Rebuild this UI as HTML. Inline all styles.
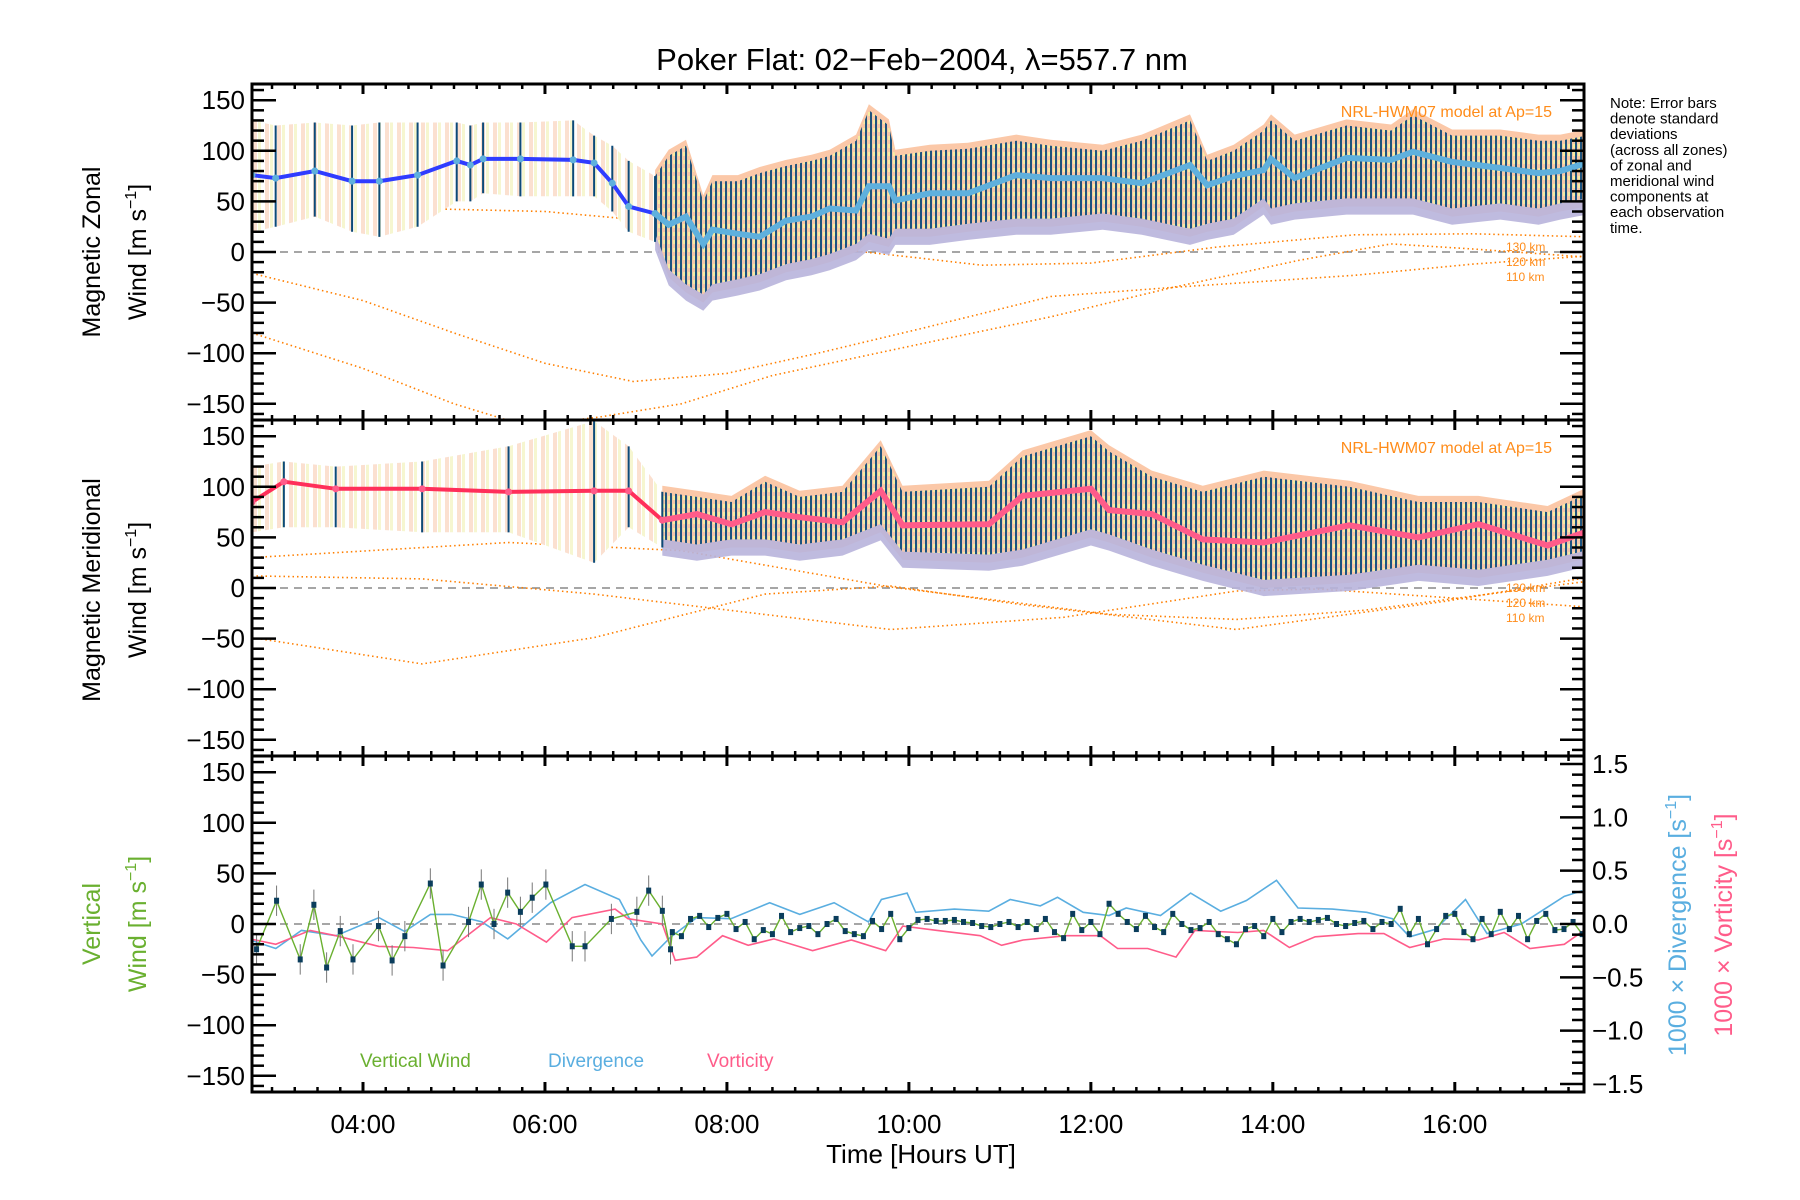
<!DOCTYPE html>
<html><head><meta charset="utf-8">
<style>
html,body{margin:0;padding:0;background:#fff;}
svg{display:block;font-family:"Liberation Sans",sans-serif;}
</style></head>
<body>
<svg id="chart" width="1800" height="1200" viewBox="0 0 1800 1200" xmlns="http://www.w3.org/2000/svg">
<defs>
<pattern id="densePat" patternUnits="userSpaceOnUse" width="5" height="8">
<rect width="5" height="8" fill="#f6c8a8"/>
<rect x="3" width="2" height="4" fill="#f4f0a0"/>
<rect x="0" width="2" height="8" fill="#0d4a78"/>
</pattern>
<pattern id="sparsePat" patternUnits="userSpaceOnUse" width="12" height="8">
<rect width="12" height="8" fill="#fff"/>
<rect x="1" width="4" height="8" fill="#fbe0d0"/>
<rect x="6" width="3" height="8" fill="#f6f6d0"/>
</pattern>
</defs>
<g id="layer"></g>
</svg>
<script>
// ---------- DATA ----------
// Panel 1: magnetic zonal wind
const zonT  = [2.78,3.04,3.47,3.88,4.18,4.6,5.03,5.18,5.32,5.73,6.31,6.54,6.74,6.92,7.21,7.36,7.55,7.74,7.84,8.12,8.36,8.65,8.93,9.13,9.42,9.56,9.78,9.85,10.23,10.65,11.18,11.56,12.13,12.56,13.09,13.28,13.57,13.9,13.98,14.24,14.81,15.3,15.54,15.97,16.5,16.92,17.16,17.45];
const zonMean=[76,73,80,70,70,76,90,86,92,92,91,88,68,45,38,27,35,8,22,18,15,31,35,43,41,65,65,51,58,58,76,73,73,68,86,66,75,81,92,73,93,91,99,89,83,78,80,88];
const zonHi = [130,125,128,125,128,128,128,125,128,128,130,115,105,90,75,95,105,50,70,70,78,85,90,95,110,140,125,95,100,102,110,105,100,110,130,90,100,120,130,110,125,120,135,115,115,110,110,115];
const zonLo = [20,25,35,20,15,25,50,50,58,55,55,55,40,20,10,-25,-40,-50,-40,-35,-30,-20,-15,-10,0,10,5,15,15,20,25,25,30,25,15,20,25,45,35,40,45,45,45,35,40,35,40,45];
const zModAT=[2.78,4.0,5.0,6.0,6.97,8.0,9.0,10.12,11.56,12.9,14.9,16.2,17.45];
const zModA =[-21,-48,-80,-110,-128,-120,-100,-76,-44,-35,-23,-12,-4];
const zModBT=[2.78,4.0,5.0,5.8,6.6,7.5,8.5,10.12,11.56,12.9,14.3,15.3,16.2,17.45];
const zModB =[-80,-115,-150,-172,-163,-150,-122,-91,-64,-35,-8,8,3,-5];
const zModCT=[2.78,4.6,6.0,7.0,8.0,10.12,10.8,12.0,13.4,14.9,16.2,17.45];
const zModC =[47,43,40,32,15,-6,-13,-11,5,17,18,15];
// Panel 2: magnetic meridional wind
const merT  =[2.78,3.13,3.7,4.65,5.6,6.54,6.92,7.29,7.67,8.05,8.42,8.8,9.27,9.69,9.93,10.88,11.25,12.0,12.2,12.67,13.23,13.9,14.84,15.6,16.26,17.02,17.49];
const merMean=[85,105,98,98,95,96,96,67,73,63,75,70,65,96,62,63,91,98,77,73,48,45,62,50,63,42,57];
const merHi =[120,125,120,125,140,165,140,95,90,85,105,90,95,140,95,100,130,150,135,110,95,110,100,85,85,75,95];
const merLo =[55,60,60,55,55,25,60,40,35,40,40,35,40,55,28,25,30,50,45,30,15,0,5,15,10,20,30];
const mModDT=[2.78,5.6,7.5,9.8,12.2,13.6,15.0,17.49];
const mModD =[30,45,37,1,-26,-31,-22,7];
const mModET=[2.78,4.65,6.54,9.8,11.7,13.6,14.5,17.49];
const mModE =[12,9,-6,-41,-29,-3,-1,-19];
const mModFT=[2.78,4.65,6.54,8.42,9.8,11.2,13.6,15.9,17.49];
const mModF =[-49,-75,-49,-6,2,-16,-41,-13,11];
// Panel 3: vertical wind
const vwT =[2.83,3.05,3.31,3.46,3.6,3.75,3.89,4.17,4.32,4.46,4.74,4.88,5.16,5.3,5.44,5.59,5.73,5.86,6.01,6.3,6.44,6.73,7.01,7.14,7.29,7.38];
const vwV =[-25,23,-35,19,-43,-7,-35,-2,-36,-12,40,-41,2,39,0,31,12,26,39,-22,-22,5,12,33,13,-25];
const vwDenseStart=7.4;
const vwDenseV=[-8,-12,5,8,-3,6,10,-5,2,-15,
-6,-10,8,-8,-4,-2,-10,0,5,-7,
-10,-12,3,-5,10,-15,-4,4,5,3,
3,4,2,1,-2,-3,0,2,-3,2,
-5,5,-8,-14,10,-6,2,-10,20,10,
2,-5,8,-3,-8,10,0,-6,-4,2,
-10,-15,-20,-5,-2,-12,5,-8,2,5,
2,4,6,0,-2,1,3,-5,2,0,
15,-10,5,-20,-5,8,10,-8,-15,5,
-10,12,-5,8,-15,3,10,-6,-5,2,
-10];
const divX=[0,30,60,100,150,180,210,235,270,300,350,390,430,455,468,490,520,560,605,640,680,720,735,765,775,820,860,885,920,940,970,1000,1020,1060,1095,1130,1160,1195,1220,1260,1300,1330,1350,1380,1415,1440,1480,1530,1550,1560];
const divV=[-0.15,-0.23,-0.06,-0.11,0.06,-0.07,0.09,0.09,0.02,-0.14,0.2,0.37,0.23,-0.15,-0.3,-0.12,0.06,0.05,0.2,0.09,0.2,0.02,0.23,0.29,0.11,0.14,0.12,0.23,0.17,0.25,0.11,0.08,0.15,0.08,0.29,0.12,0.22,0.41,0.15,0.14,0.11,0.05,-0.12,-0.05,0.23,-0.09,0,0.26,0.31,0.22];
const vorX=[0,30,70,100,150,190,230,280,310,345,375,425,440,480,495,520,550,580,610,655,700,740,760,800,850,875,900,950,990,1010,1045,1078,1100,1150,1180,1210,1240,1290,1320,1350,1390,1430,1460,1490,1530,1560];
const vorV=[-0.14,-0.19,-0.06,-0.11,-0.21,-0.22,-0.25,0.06,0,-0.17,0.06,0.14,0.05,0,-0.34,-0.31,-0.11,-0.2,-0.14,-0.25,-0.15,-0.25,-0.02,-0.06,-0.11,-0.2,-0.15,-0.11,-0.11,-0.23,-0.23,-0.31,-0.06,-0.08,-0.06,-0.22,-0.12,-0.09,-0.09,-0.22,-0.14,-0.15,-0.08,-0.23,-0.19,-0.02];
const yTicks=[150,100,50,0,-50,-100,-150];
const rTicks=[1.5,1.0,0.5,0.0,-0.5,-1.0,-1.5];
const xTickHours=[4,6,8,10,12,14,16];

// ---------- LAYOUT ----------
const NS="http://www.w3.org/2000/svg";
const L=252,R=1584,T0=2.78,T1=17.42;
const tops=[84,420,756],PH=336;
const layer=document.getElementById('layer');
function xs(t){return L+(t-T0)/(T1-T0)*(R-L);}
function ys(v,p){return tops[p]+PH/2-v*(PH/2)/166;}
function yr(v){return tops[2]+PH/2-v*(PH/2)/1.575;}
function pxT(px){return T0+(250+px*0.859-L)/((R-L)/(T1-T0));}
function mk(tag,attrs,parent){const e=document.createElementNS(NS,tag);for(const k in attrs)e.setAttribute(k,attrs[k]);(parent||layer).appendChild(e);return e;}
function txt(s,x,y,attrs,parent){const e=mk('text',Object.assign({x:x,y:y},attrs),parent);e.textContent=s;return e;}
function pts(ts,vs,f){return ts.map((t,i)=>xs(t).toFixed(1)+','+f(vs[i]).toFixed(1)).join(' ');}

const defs=document.querySelector('defs');
for(let p=0;p<3;p++){const c=mk('clipPath',{id:'clip'+p},defs);mk('rect',{x:L,y:tops[p],width:R-L,height:PH},c);}

function drawWindPanel(p,T,M,H,Lo,lineEarly,lineLate,modSets,name){
  const g=mk('g',{'clip-path':'url(#clip'+p+')'});
  
  
  const z=mk('line',{x1:L,x2:R,y1:ys(0,p),y2:ys(0,p),stroke:'#888','stroke-width':1.5,'stroke-dasharray':'8,6'},g);
  
  
  modSets.forEach((m)=>{
    const pl=mk('polyline',{points:pts(m[0],m[1],v=>ys(v,p)),fill:'none',stroke:'#ff7f00','stroke-width':1.6,'stroke-dasharray':'1.5,3'},g);
    
    
  });
  const split=T.findIndex(t=>t>=7.2);
  const early=[...Array(split+1).keys()], late=[...Array(T.length-split).keys()].map(i=>i+split);
  const bandPts=(idx,hiOff,loOff)=>{
    const up=idx.map(i=>xs(T[i]).toFixed(1)+','+ys(H[i]+hiOff,p).toFixed(1));
    const dn=idx.slice().reverse().map(i=>xs(T[i]).toFixed(1)+','+ys(Lo[i]+loOff,p).toFixed(1));
    return up.concat(dn).join(' ');
  };
  const halo=mk('polygon',{points:bandPts(late,6,0),fill:'#fbc8a8'},g);
  
  
  const lav=late.map(i=>xs(T[i]).toFixed(1)+','+ys(Lo[i]+25,p).toFixed(1)).concat(late.slice().reverse().map(i=>xs(T[i]).toFixed(1)+','+ys(Lo[i]-8,p).toFixed(1)));
  const lv=mk('polygon',{points:lav.join(' '),fill:'#b8b4dc',opacity:0.9},g);
  
  
  const b1=mk('polygon',{points:bandPts(early,0,0),fill:'url(#sparsePat)'},g);
  
  
  const b2=mk('polygon',{points:bandPts(late,0,8),fill:'url(#densePat)',opacity:0.92},g);
  
  
  early.forEach(i=>{
    const b=mk('line',{x1:xs(T[i]),x2:xs(T[i]),y1:ys(H[i],p),y2:ys(Lo[i],p),stroke:'#0d4a78','stroke-width':2},g);
    
    
  });
  const e1=mk('polyline',{points:pts(early.map(i=>T[i]),early.map(i=>M[i]),v=>ys(v,p)),fill:'none',stroke:lineEarly,'stroke-width':4},g);
  
  
  const e2=mk('polyline',{points:pts(late.map(i=>T[i]),late.map(i=>M[i]),v=>ys(v,p)),fill:'none',stroke:lineLate,'stroke-width':6},g);
  
  
  early.forEach(i=>{
    const c=mk('circle',{cx:xs(T[i]),cy:ys(M[i],p),r:3.5,fill:lineLate},g);
    
    
  });
  const a=txt('NRL-HWM07 model at Ap=15',1552,tops[p]+33,{'font-size':16,fill:'#ff8c1a','text-anchor':'end'});
  
  
}
drawWindPanel(0,zonT,zonMean,zonHi,zonLo,'#2f3cff','#5fb0dd',[[zModAT,zModA,'110km'],[zModBT,zModB,'120km'],[zModCT,zModC,'130km']],'zonal');
drawWindPanel(1,merT,merMean,merHi,merLo,'#ff2f5a','#ff5c8a',[[mModFT,mModF,'110km'],[mModET,mModE,'120km'],[mModDT,mModD,'130km']],'meridional');
[['130 km',0],['120 km',1],['110 km',2]].forEach(([s,k])=>{
  for(let p=0;p<2;p++){
    const e=txt(s,1506,tops[p]+167+(p===1?5:0)+k*15,{'font-size':12,fill:'#ff8c1a'});
    
    
  }
});

// Panel 3
(function(){
  const g=mk('g',{'clip-path':'url(#clip2)'});
  
  
  const z=mk('line',{x1:L,x2:R,y1:ys(0,2),y2:ys(0,2),stroke:'#888','stroke-width':1.5,'stroke-dasharray':'8,6'},g);
  
  
  const dv=mk('polyline',{points:divX.map((px,i)=>xs(pxT(px)).toFixed(1)+','+yr(divV[i]).toFixed(1)).join(' '),fill:'none',stroke:'#5aaee0','stroke-width':1.6},g);
  
  
  const vo=mk('polyline',{points:vorX.map((px,i)=>xs(pxT(px)).toFixed(1)+','+yr(vorV[i]).toFixed(1)).join(' '),fill:'none',stroke:'#ff5c8a','stroke-width':1.6},g);
  
  
  const dT=vwDenseV.map((v,i)=>vwDenseStart+i*0.1);
  const allT=vwT.concat(dT), allV=vwV.concat(vwDenseV);
  const gl=mk('polyline',{points:pts(allT,allV,v=>ys(v,2)),fill:'none',stroke:'#6ab030','stroke-width':1.4},g);
  
  
  vwT.forEach((t,i)=>{
    const b=mk('line',{x1:xs(t),x2:xs(t),y1:ys(vwV[i]+15,2),y2:ys(vwV[i]-15,2),stroke:'#777','stroke-width':1},g);
    
    
  });
  allT.forEach((t,i)=>{
    const r=mk('rect',{x:xs(t)-2.5,y:ys(allV[i],2)-3,width:5,height:6,fill:'#0a3d5c'},g);
    
    
  });
})();

// ---------- AXES ----------
for(let p=0;p<3;p++){
  const fr=mk('rect',{x:L,y:tops[p],width:R-L,height:PH,fill:'none',stroke:'#000','stroke-width':3});
  
  
  for(let v=-160;v<=160;v+=10){
    const maj=v%50===0, y=ys(v,p);
    mk('line',{x1:L,x2:L+(maj?24:12),y1:y,y2:y,stroke:'#000','stroke-width':2.5});
    if(p<2) mk('line',{x1:R,x2:R-(maj?24:12),y1:y,y2:y,stroke:'#000','stroke-width':2.5});
  }
  yTicks.forEach(v=>{
    const t=txt((v<0?'\u2212':'')+Math.abs(v),245,ys(v,p)+9,{'font-size':26,'text-anchor':'end',fill:'#000'});
    
    
  });
  for(let t=3;t<=17.42;t+=0.25){
    const maj=Math.abs(t-Math.round(t))<0.01&&Math.round(t)%2===0, x=xs(t);
    const len=maj?10:5;
    mk('line',{x1:x,x2:x,y1:tops[p]+PH,y2:tops[p]+PH-len,stroke:'#000','stroke-width':maj?3:2.5});
    mk('line',{x1:x,x2:x,y1:tops[p],y2:tops[p]+len,stroke:'#000','stroke-width':maj?3:2.5});
  }
}
for(let k=-15;k<=15;k++){
  const v=k/10, maj=k%5===0, y=yr(v);
  mk('line',{x1:R,x2:R-(maj?24:12),y1:y,y2:y,stroke:'#000','stroke-width':2.5});
}
rTicks.forEach(v=>{
  const t=txt((v<0?'\u2212':'')+Math.abs(v).toFixed(1),1592,yr(v)+9,{'font-size':26,fill:'#000'});
  
  
});
xTickHours.forEach(h=>{
  const t=txt((h<10?'0':'')+h+':00',xs(h),1133,{'font-size':26,'text-anchor':'middle',fill:'#000'});
  
  
});

// ---------- LABELS ----------
function rotLabel(lines,x,cy,name){
  const g=mk('text',{transform:'translate('+x+','+cy+') rotate(-90)','text-anchor':'middle','font-size':25});
  
  
  g.innerHTML=lines;
}
rotLabel('<tspan x="0" y="0" fill="#000">Magnetic Zonal</tspan><tspan x="0" y="46" fill="#000">Wind [m s<tspan font-size="16" dy="-10">\u22121</tspan><tspan dy="10">]</tspan></tspan>',100,252,'zonal-y-axis-title');
rotLabel('<tspan x="0" y="0" fill="#000">Magnetic Meridional</tspan><tspan x="0" y="46" fill="#000">Wind [m s<tspan font-size="16" dy="-10">\u22121</tspan><tspan dy="10">]</tspan></tspan>',100,590,'meridional-y-axis-title');
rotLabel('<tspan x="0" y="0" fill="#6ab030">Vertical</tspan><tspan x="0" y="46" fill="#6ab030">Wind [m s<tspan font-size="16" dy="-10">\u22121</tspan><tspan dy="10">]</tspan></tspan>',100,924,'vertical-y-axis-title');
rotLabel('<tspan x="0" y="0" fill="#5aaee0">1000 \u00d7 Divergence [s<tspan font-size="16" dy="-10">\u22121</tspan><tspan dy="10">]</tspan></tspan>',1686,925,'divergence-axis-title');
rotLabel('<tspan x="0" y="0" fill="#ff5c8a">1000 \u00d7 Vorticity [s<tspan font-size="16" dy="-10">\u22121</tspan><tspan dy="10">]</tspan></tspan>',1732,925,'vorticity-axis-title');

const title=txt('Poker Flat: 02\u2212Feb\u22122004, \u03bb=557.7 nm',922,70,{'font-size':31,'text-anchor':'middle',fill:'#000'});


const xt=txt('Time [Hours UT]',921,1163,{'font-size':26,'text-anchor':'middle',fill:'#000'});



const note=['Note: Error bars','denote standard','deviations','(across all zones)','of zonal and','meridional wind','components at','each observation','time.'];
note.forEach((s,i)=>{
  const t=txt(s,1610,108+i*15.6,{'font-size':15,fill:'#000'});
  
  
});
[['Vertical Wind',360,'#6ab030','legend-vertical-wind'],['Divergence',548,'#5aaee0','legend-divergence'],['Vorticity',707,'#ff5c8a','legend-vorticity']].forEach(([s,x,c,n])=>{
  const t=txt(s,x,1067,{'font-size':19,fill:c});
  
  
});
</script>
</body></html>
